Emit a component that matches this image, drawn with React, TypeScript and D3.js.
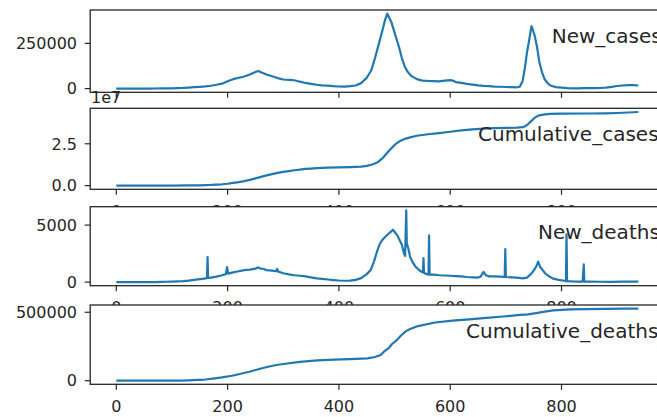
import React from 'react';
import * as d3 from 'd3';

const W = 657;
const H = 417;

// ---- data ----
const newCaseDays = [0, 10, 20, 30, 40, 50, 60, 70, 80, 90, 100, 110, 120, 130, 140, 150, 160, 170, 180, 190, 200, 210, 220, 230, 240, 250, 255, 260, 270, 280, 290, 300, 310, 320, 330, 340, 350, 360, 370, 380, 390, 400, 410, 420, 430, 440, 450, 458, 465, 472, 478, 483, 487, 490, 494, 498, 503, 508, 513, 518, 523, 530, 540, 550, 560, 570, 580, 590, 600, 605, 610, 620, 630, 640, 650, 660, 670, 680, 690, 700, 710, 720, 725, 730, 734, 738, 742, 746, 749, 752, 756, 760, 765, 770, 775, 780, 790, 800, 810, 820, 830, 840, 850, 860, 870, 880, 890, 900, 910, 920, 930, 938];
const newCases = [0, 0, 0, 2, 0, 10, 80, 300, 600, 1000, 1500, 2500, 3500, 5500, 7500, 9500, 12000, 15500, 21000, 27000, 40000, 52000, 60000, 67000, 78000, 92000, 97000, 90000, 78000, 68000, 58000, 50000, 48000, 46000, 38000, 31000, 26000, 21000, 18000, 16000, 13000, 11500, 11000, 13000, 17000, 30000, 60000, 100000, 170000, 250000, 320000, 380000, 414000, 395000, 370000, 330000, 280000, 230000, 170000, 125000, 95000, 70000, 52000, 44000, 42000, 41000, 40000, 44000, 47000, 44000, 36000, 31000, 26000, 22000, 18000, 15000, 13000, 11000, 10000, 8500, 7500, 7000, 10000, 40000, 110000, 200000, 270000, 345000, 320000, 290000, 230000, 150000, 90000, 50000, 30000, 17000, 8000, 5000, 2500, 1500, 1200, 2200, 3000, 2800, 3000, 5000, 9000, 14000, 17000, 18500, 19000, 17000];

const cumCaseDays = [0, 60, 100, 130, 150, 170, 190, 200, 210, 220, 230, 240, 250, 260, 270, 280, 290, 300, 310, 320, 330, 340, 350, 360, 380, 400, 420, 440, 450, 460, 470, 480, 490, 500, 510, 520, 530, 540, 560, 580, 600, 620, 640, 660, 680, 700, 720, 730, 735, 740, 745, 750, 755, 760, 770, 780, 800, 850, 880, 900, 920, 938];
const cumCases = [0, 0, 0.02e6, 0.1e6, 0.2e6, 0.4e6, 0.8e6, 1.1e6, 1.6e6, 2.1e6, 2.7e6, 3.4e6, 4.3e6, 5.2e6, 6.1e6, 6.9e6, 7.6e6, 8.2e6, 8.7e6, 9.2e6, 9.6e6, 9.95e6, 10.2e6, 10.4e6, 10.7e6, 10.9e6, 11.1e6, 11.4e6, 11.8e6, 12.6e6, 14.0e6, 16.9e6, 20.8e6, 24.3e6, 26.7e6, 28.1e6, 29.0e6, 29.8e6, 30.7e6, 31.4e6, 32.2e6, 33.0e6, 33.6e6, 34.0e6, 34.3e6, 34.5e6, 34.7e6, 34.9e6, 35.5e6, 36.8e6, 38.4e6, 40.0e6, 41.2e6, 42.0e6, 42.6e6, 42.9e6, 43.0e6, 43.1e6, 43.2e6, 43.4e6, 43.7e6, 44.0e6];

const newDeathDays = [0, 40, 60, 70, 80, 90, 100, 110, 120, 130, 140, 150, 155, 160, 163, 164, 165, 170, 180, 190, 197, 199, 201, 210, 220, 230, 240, 250, 255, 258, 265, 270, 280, 287, 289, 291, 300, 310, 320, 330, 340, 350, 360, 370, 380, 390, 400, 410, 420, 430, 440, 450, 457, 463, 468, 473, 478, 483, 488, 493, 497, 501, 505, 509, 513, 517, 519, 521, 522, 525, 528, 532, 537, 542, 547, 551, 552, 553, 558, 561, 562, 563, 570, 580, 590, 600, 610, 620, 630, 640, 650, 655, 660, 664, 670, 680, 690, 698, 699, 700, 710, 720, 730, 738, 745, 750, 755, 758, 762, 767, 772, 778, 785, 795, 805, 808, 809, 810, 820, 830, 838, 840, 841, 850, 870, 890, 910, 925, 938];
const newDeaths = [0, 0, 1, 5, 15, 30, 50, 70, 90, 130, 200, 260, 290, 330, 350, 2200, 360, 400, 480, 600, 700, 1320, 740, 850, 950, 1050, 1100, 1180, 1300, 1200, 1150, 1050, 1000, 950, 1150, 920, 780, 680, 600, 560, 500, 420, 330, 280, 230, 180, 140, 120, 130, 200, 350, 700, 1050, 1800, 2600, 3300, 3700, 3950, 4200, 4400, 4600, 4350, 4100, 3700, 3300, 2500, 2300, 6300, 3400, 2900, 2200, 1800, 1400, 1150, 950, 850, 2100, 800, 700, 650, 4100, 650, 650, 600, 580, 560, 530, 500, 450, 420, 400, 500, 900, 600, 500, 500, 480, 450, 2900, 450, 420, 400, 330, 400, 700, 1000, 1400, 1800, 1300, 1000, 700, 500, 300, 200, 120, 90, 4200, 90, 60, 50, 40, 1550, 40, 35, 30, 25, 35, 40, 40];

const cumDeathDays = [0, 80, 100, 116, 130, 147, 160, 177, 190, 208, 220, 239, 250, 269, 285, 300, 330, 361, 392, 420, 451, 465, 475, 481, 490, 495, 505, 512, 520, 526, 542, 573, 604, 634, 665, 695, 726, 740, 757, 770, 785, 816, 846, 880, 910, 938];
const cumDeaths = [0, 50, 400, 1200, 2500, 5400, 8500, 17000, 24000, 36000, 47000, 65000, 78000, 98000, 113000, 122000, 137000, 149000, 154000, 157000, 163000, 173000, 188000, 212000, 240000, 266000, 300000, 332000, 360000, 374000, 399000, 425000, 439000, 448000, 459000, 469000, 481000, 485000, 496000, 505000, 514000, 521000, 523000, 525000, 526000, 526600];

const xTicks = [0, 200, 400, 600, 800];

const panels = [
  { name: 'New_cases', days: newCaseDays, values: newCases, top: 10, bottom: 92.3, yTicks: [0, 250000], yLabels: ['0', '250000'], offset: '', titleX: 551.7 },
  { name: 'Cumulative_cases', days: cumCaseDays, values: cumCases, top: 108.3, bottom: 189.3, yTicks: [0, 2.5e7], yLabels: ['0.0', '2.5'], offset: '1e7', titleX: 478 },
  { name: 'New_deaths', days: newDeathDays, values: newDeaths, top: 206.7, bottom: 285.7, yTicks: [0, 5000], yLabels: ['0', '5000'], offset: '', titleX: 538 },
  { name: 'Cumulative_deaths', days: cumDeathDays, values: cumDeaths, top: 305, bottom: 384.3, yTicks: [0, 500000], yLabels: ['0', '500000'], offset: '', titleX: 466 },
];

const X0 = 90.2;
const X1 = 664.4;
const FONT = 'DejaVu Sans, sans-serif';
const LINE = '#1f77b4';
const AX = '#262626';

export default function App() {
  const lastDay = d3.max([...newCaseDays, ...cumCaseDays, ...newDeathDays, ...cumDeathDays]) as number;
  const x = d3.scaleLinear().domain([-0.05 * lastDay, 1.05 * lastDay]).range([X0, X1]);

  return (
    <svg width={W} height={H} style={{ position: 'absolute', left: 0, top: 0, background: '#fff' }} fontFamily={FONT}>
      <rect x={0} y={0} width={W} height={H} fill="#fff" />
      {panels.map((p, i) => {
        const [mn, mx] = d3.extent(p.values) as [number, number];
        const pad = (mx - mn) * 0.05;
        const y = d3.scaleLinear().domain([mn - pad, mx + pad]).range([p.bottom, p.top]);
        const pts: [number, number][] = p.days.map((d, k) => [d, p.values[k]]);
        const line = d3.line<[number, number]>().x((d) => x(d[0])).y((d) => y(d[1]));
        return (
          <g key={i}>
            <rect x={X0} y={p.top} width={X1 - X0} height={p.bottom - p.top} fill="#fff" />
            <path d={line(pts) || ''} fill="none" stroke={LINE} strokeWidth={2.2} strokeLinejoin="round" />
            <rect x={X0} y={p.top} width={X1 - X0} height={p.bottom - p.top} fill="none" stroke={AX} strokeWidth={1.3} />
            {xTicks.map((t) => (
              <g key={'x' + t}>
                <line x1={x(t)} x2={x(t)} y1={p.bottom} y2={p.bottom + 5.5} stroke={AX} strokeWidth={1.2} />
                <text x={x(t)} y={p.bottom + 27.5} textAnchor="middle" fontSize={16} fill={AX}>{t}</text>
              </g>
            ))}
            {p.yTicks.map((t, k) => (
              <g key={'y' + k}>
                <line x1={X0 - 5.5} x2={X0} y1={y(t)} y2={y(t)} stroke={AX} strokeWidth={1.2} />
                <text x={77} y={y(t)} dy="0.36em" textAnchor="end" fontSize={16} fill={AX}>{p.yLabels[k]}</text>
              </g>
            ))}
            {p.offset && (
              <text x={91} y={p.top - 5.5} fontSize={16} fill={AX}>{p.offset}</text>
            )}
            <text x={p.titleX} y={p.top + 32.5} fontSize={20} fill={AX}>{p.name}</text>
          </g>
        );
      })}
    </svg>
  );
}
